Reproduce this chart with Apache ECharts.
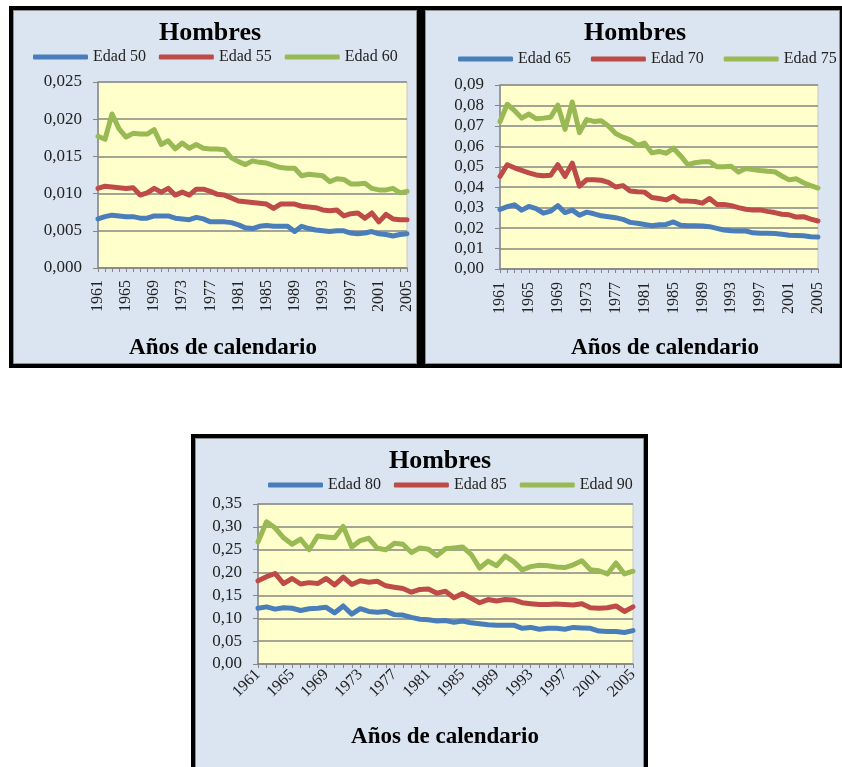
<!DOCTYPE html>
<html>
<head>
<meta charset="utf-8">
<script src="https://cdn.jsdelivr.net/npm/echarts@6/dist/echarts.min.js"></script>
<style>
  body { margin: 0; background: #fff; overflow: hidden; width: 842px; height: 767px; position: relative; }
  .frame { position: absolute; border: 4px solid #000; box-sizing: border-box; }
  .panel { width: 100%; height: 100%; border: 1px solid #8f8f8f; background: #dbe5f1; box-sizing: border-box; }
  .chart { width: 100%; height: 100%; }
</style>
</head>
<body>
<div class="frame" style="left:9px;top:6px;width:412px;height:362px"><div class="panel"><div id="c1" class="chart"></div></div></div>
<div class="frame" style="left:421px;top:6px;width:423px;height:362px"><div class="panel"><div id="c2" class="chart"></div></div></div>
<div class="frame" style="left:191px;top:434px;width:457px;height:345px"><div class="panel"><div id="c3" class="chart"></div></div></div>
<script>
var years = ['1961','1962','1963','1964','1965','1966','1967','1968','1969','1970',
  '1971','1972','1973','1974','1975','1976','1977','1978','1979','1980',
  '1981','1982','1983','1984','1985','1986','1987','1988','1989','1990',
  '1991','1992','1993','1994','1995','1996','1997','1998','1999','2000',
  '2001','2002','2003','2004','2005'];

// tasas de mortalidad, hombres
var edad50 = [0.0066,0.0069,0.0071,0.0070,0.0069,0.0069,0.0067,0.0067,0.0070,0.0070,
  0.0070,0.0067,0.0066,0.0065,0.0068,0.0066,0.0062,0.0062,0.0062,0.0061,
  0.0058,0.0054,0.0053,0.0056,0.0057,0.0056,0.0056,0.0056,0.0049,0.0056,
  0.0053,0.0051,0.0050,0.0049,0.0050,0.0050,0.0047,0.0046,0.0047,0.0049,
  0.0046,0.0045,0.0043,0.0045,0.0046];
var edad55 = [0.0107,0.0110,0.0109,0.0108,0.0107,0.0108,0.0098,0.0101,0.0107,0.0102,
  0.0107,0.0098,0.0102,0.0098,0.0106,0.0106,0.0103,0.0099,0.0098,0.0094,
  0.0090,0.0089,0.0088,0.0087,0.0086,0.0080,0.0086,0.0086,0.0086,0.0083,
  0.0082,0.0081,0.0078,0.0077,0.0078,0.0070,0.0073,0.0074,0.0067,0.0074,
  0.0062,0.0072,0.0066,0.0065,0.0065];
var edad60 = [0.0177,0.0173,0.0207,0.0187,0.0176,0.0181,0.0180,0.0180,0.0186,0.0166,
  0.0171,0.0160,0.0168,0.0161,0.0166,0.0161,0.0160,0.0160,0.0159,0.0148,
  0.0143,0.0139,0.0144,0.0142,0.0141,0.0138,0.0135,0.0134,0.0134,0.0124,
  0.0126,0.0125,0.0124,0.0116,0.0120,0.0119,0.0113,0.0113,0.0114,0.0107,
  0.0105,0.0105,0.0107,0.0101,0.0103];

var edad65 = [0.0291,0.0305,0.0314,0.0288,0.0306,0.0295,0.0273,0.0283,0.0310,0.0276,
  0.0288,0.0263,0.0278,0.0270,0.0260,0.0256,0.0251,0.0243,0.0228,0.0224,
  0.0218,0.0212,0.0216,0.0218,0.0230,0.0214,0.0212,0.0212,0.0210,0.0207,
  0.0199,0.0191,0.0187,0.0186,0.0186,0.0177,0.0175,0.0175,0.0174,0.0170,
  0.0165,0.0164,0.0163,0.0158,0.0156];
var edad70 = [0.0453,0.0510,0.0495,0.0482,0.0470,0.0460,0.0456,0.0458,0.0510,0.0453,
  0.0518,0.0405,0.0437,0.0436,0.0434,0.0424,0.0401,0.0408,0.0382,0.0378,
  0.0376,0.0350,0.0345,0.0338,0.0356,0.0332,0.0332,0.0330,0.0322,0.0345,
  0.0316,0.0316,0.0310,0.0300,0.0292,0.0288,0.0289,0.0282,0.0276,0.0268,
  0.0265,0.0254,0.0256,0.0244,0.0235];
var edad75 = [0.0720,0.0806,0.0775,0.0738,0.0758,0.0735,0.0738,0.0742,0.0801,0.0683,
  0.0817,0.0667,0.0731,0.0722,0.0725,0.0699,0.0663,0.0645,0.0632,0.0605,
  0.0616,0.0568,0.0575,0.0566,0.0591,0.0553,0.0510,0.0520,0.0525,0.0525,
  0.0500,0.0500,0.0502,0.0474,0.0492,0.0487,0.0482,0.0478,0.0476,0.0455,
  0.0436,0.0441,0.0422,0.0408,0.0396];

var edad80 = [0.122,0.125,0.120,0.123,0.122,0.117,0.121,0.122,0.124,0.112,
  0.127,0.109,0.121,0.115,0.113,0.115,0.108,0.107,0.102,0.098,
  0.097,0.094,0.095,0.091,0.094,0.090,0.088,0.086,0.085,0.085,
  0.085,0.078,0.080,0.076,0.078,0.078,0.076,0.080,0.079,0.078,
  0.072,0.071,0.071,0.069,0.073];
var edad85 = [0.182,0.191,0.198,0.176,0.187,0.175,0.178,0.176,0.187,0.173,
  0.190,0.174,0.182,0.179,0.181,0.171,0.168,0.165,0.157,0.163,
  0.164,0.155,0.159,0.145,0.154,0.144,0.134,0.141,0.138,0.141,
  0.140,0.134,0.132,0.130,0.130,0.131,0.130,0.129,0.132,0.123,
  0.122,0.123,0.127,0.115,0.125];
var edad90 = [0.267,0.311,0.298,0.276,0.262,0.273,0.250,0.280,0.278,0.276,
  0.301,0.256,0.270,0.275,0.253,0.250,0.264,0.262,0.244,0.254,
  0.251,0.237,0.252,0.254,0.256,0.240,0.210,0.225,0.215,0.236,
  0.224,0.206,0.213,0.216,0.215,0.212,0.211,0.217,0.226,0.206,
  0.204,0.197,0.221,0.197,0.203];

var colors = ['#4a7ebb', '#be4b48', '#98b954'];
var FONT = "'Liberation Serif', 'DejaVu Serif', serif";
var grey = '#868686';

function makeChart(id, c) {
  var chart = echarts.init(document.getElementById(id));
  var option = {
    animation: false,
    grid: {
      left: c.grid[0], top: c.grid[1], width: c.grid[2], height: c.grid[3],
      containLabel: false, outerBoundsMode: 'none',
      show: true, backgroundColor: '#ffffcc', borderColor: '#c8c8c8', borderWidth: 1
    },
    legend: {
      left: c.legend[0], top: c.legend[1], itemGap: c.legend[2], width: 440, padding: 0,
      icon: 'roundRect', itemWidth: 55, itemHeight: 5,
      textStyle: { fontFamily: FONT, fontSize: 16, color: '#222' },
      data: c.names
    },
    xAxis: {
      type: 'category', data: years, boundaryGap: false,
      axisLine: { lineStyle: { color: grey, width: 1.5 } },
      axisTick: { show: true, interval: 0, length: 4, lineStyle: { color: grey, width: 1 } },
      axisLabel: { interval: 3, rotate: c.rotate, margin: c.xMargin, fontFamily: FONT, fontSize: 16, color: '#222' },
      splitLine: { show: false }
    },
    yAxis: {
      type: 'value', min: 0, max: c.max, interval: c.step,
      axisLine: { show: true, lineStyle: { color: grey, width: 1.5 } },
      axisTick: { show: true, length: 5, lineStyle: { color: grey, width: 1 } },
      splitLine: { show: true, lineStyle: { color: grey, width: 1.5 } },
      axisLabel: {
        margin: 16, fontFamily: FONT, fontSize: 17, color: '#222',
        formatter: function (v) { return v.toFixed(c.dec).replace('.', ','); }
      }
    },
    series: c.names.map(function (n, i) {
      return {
        name: n, type: 'line', data: c.values[i], symbol: 'none',
        lineStyle: { width: 5, color: colors[i], cap: 'round', join: 'round' },
        itemStyle: { color: colors[i] }
      };
    }),
    graphic: [
      { type: 'text', x: c.title[0], y: c.title[1],
        style: { text: 'Hombres', font: 'bold 26px ' + FONT, fill: '#000', textAlign: 'center', textVerticalAlign: 'middle' } },
      { type: 'text', x: c.xname[0], y: c.xname[1],
        style: { text: 'Años de calendario', font: 'bold 23px ' + FONT, fill: '#000', textAlign: 'center', textVerticalAlign: 'middle' } }
    ]
  };
  chart.setOption(option);
}

makeChart('c1', {
  names: ['Edad 50', 'Edad 55', 'Edad 60'], values: [edad50, edad55, edad60],
  max: 0.025, step: 0.005, dec: 3, rotate: 90, xMargin: 12,
  grid: [84, 71, 309, 186], legend: [19, 38, 13], title: [196, 22], xname: [209, 337]
});
makeChart('c2', {
  names: ['Edad 65', 'Edad 70', 'Edad 75'], values: [edad65, edad70, edad75],
  max: 0.09, step: 0.01, dec: 2, rotate: 90, xMargin: 13,
  grid: [74, 74, 318, 184], legend: [32, 40, 20], title: [209, 22], xname: [239, 337]
});
makeChart('c3', {
  names: ['Edad 80', 'Edad 85', 'Edad 90'], values: [edad80, edad85, edad90],
  max: 0.35, step: 0.05, dec: 2, rotate: 45, xMargin: 8,
  grid: [62, 65, 375, 160], legend: [72, 38, 13], title: [244, 22], xname: [249, 298]
});
</script>
</body>
</html>
